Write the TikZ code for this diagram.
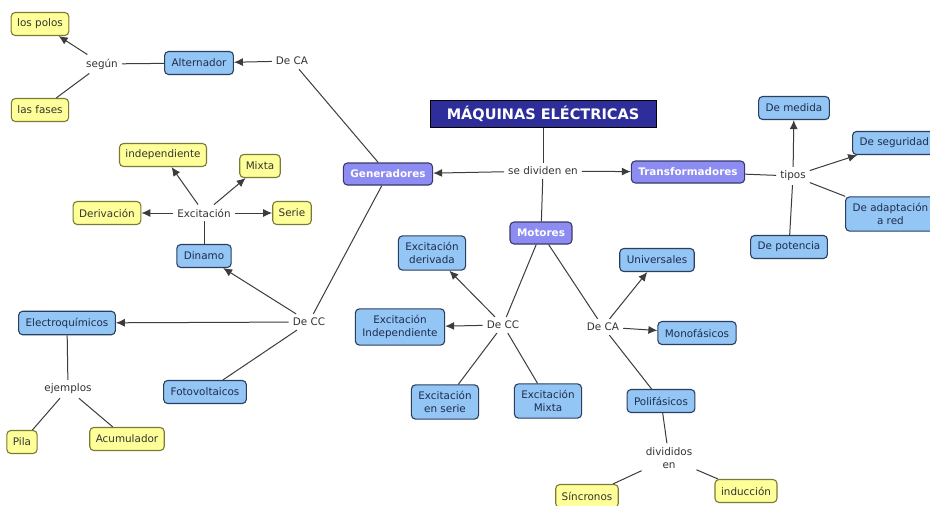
\documentclass[tikz,border=0pt]{standalone}
\usepackage{fontspec}
\setmainfont{DejaVu Sans}
\usetikzlibrary{arrows.meta}
\definecolor{conceptfill}{HTML}{93C5F5}
\definecolor{conceptdraw}{HTML}{2A3F5F}
\definecolor{conceptink}{HTML}{1F2D4D}
\definecolor{leaffill}{HTML}{FFFF99}
\definecolor{leafdraw}{HTML}{7A7A35}
\definecolor{groupfill}{HTML}{8C8CF2}
\definecolor{groupdraw}{HTML}{3A3A6A}
\definecolor{titlefill}{HTML}{2E2E9A}
\definecolor{wiregray}{HTML}{3C3C3C}
\definecolor{linkink}{HTML}{333333}

\begin{document}
\begin{tikzpicture}[x=1pt, y=-1pt,
>={Latex[length=9pt,width=8pt]},
concept/.style={rounded corners=4pt, draw=conceptdraw, fill=conceptfill, line width=1.1pt, text=conceptink, align=center, inner xsep=7pt, inner ysep=6.5pt, minimum height=23pt, font=\fontsize{10.4}{12.7}\selectfont},
leaf/.style={rounded corners=4pt, draw=leafdraw, fill=leaffill, line width=1.1pt, text=linkink, align=center, inner xsep=6pt, minimum height=23pt, font=\fontsize{10.4}{12.7}\selectfont},
group/.style={rounded corners=4pt, draw=groupdraw, fill=groupfill, line width=1.1pt, text=white, align=center, inner xsep=7pt, minimum height=22pt, font=\fontsize{10.4}{12.7}\selectfont\bfseries},
title/.style={draw=black, fill=titlefill, text=white, inner xsep=17pt, minimum height=27pt, font=\fontsize{14.5}{16}\selectfont\bfseries},
link/.style={text=linkink, align=center, inner sep=4pt, font=\fontsize{10.4}{12.7}\selectfont},
wire/.style={line width=1pt, color=wiregray},
]

\clip (0,0) rectangle (930,506);
\fill[white] (0,0) rectangle (930,506);

% Title and main branches
\node[title] (maq) at (543,114) {MÁQUINAS ELÉCTRICAS};
\node[link] (divid) at (543,171) {se dividen en};
\node[group] (gen) at (388,174) {Generadores};
\node[group] (trans) at (688,172) {Transformadores};
\node[group] (motores) at (541,233) {Motores};

% Generadores
\node[link] (gca) at (292,61) {De CA};
\node[concept] (alt) at (199,63) {Alternador};
\node[link] (segun) at (102,64) {según};
\node[leaf] (polos) at (40,24) {los polos};
\node[leaf] (fases) at (40,110) {las fases};

\node[link] (gcc) at (309,322) {De CC};
\node[concept] (dinamo) at (204,256) {Dinamo};
\node[link] (excit) at (204,213) {Excitación};
\node[leaf] (indep) at (163,155) {independiente};
\node[leaf] (mixta) at (260,166) {Mixta};
\node[leaf] (deriv) at (107,213) {Derivación};
\node[leaf] (serie) at (292,213) {Serie};
\node[concept] (electro) at (67,323) {Electroquímicos};
\node[link] (ejemplos) at (68,389) {ejemplos};
\node[leaf] (pila) at (22,442) {Pila};
\node[leaf] (acum) at (127,439) {Acumulador};
\node[concept] (foto) at (205,392) {Fotovoltaicos};

% Motores
\node[link] (mcc) at (503,325) {De CC};
\node[concept] (exderiv) at (432,253) {Excitación\\derivada};
\node[concept] (exindep) at (400,327) {Excitación\\Independiente};
\node[concept] (exserie) at (445,402) {Excitación\\en serie};
\node[concept] (exmixta) at (548,401) {Excitación\\Mixta};

\node[link] (mca) at (603,327) {De CA};
\node[concept] (univ) at (657,260) {Universales};
\node[concept] (mono) at (697,333) {Monofásicos};
\node[concept] (poli) at (661,401) {Polifásicos};
\node[link] (divididos) at (669,458) {divididos\\en};
\node[leaf] (sincr) at (587,496) {Síncronos};
\node[leaf] (induc) at (746,491) {inducción};

% Transformadores
\node[link] (tipos) at (793,176) {tipos};
\node[concept] (medida) at (794,108) {De medida};
\node[concept, anchor=west] (segur) at (852,143) {De seguridad};
\node[concept, anchor=west] (adapt) at (845,214) {De adaptación\\a red};
\node[concept] (potencia) at (789,247) {De potencia};

% Draw connecting lines
\draw[wire] (maq) to (divid);
\draw[->, wire] (divid) to (gen);
\draw[->, wire] (divid) to (trans);
\draw[wire] (divid) to (motores);

\draw[wire] (gen) to (gca);
\draw[->, wire] (gca) to (alt);
\draw[wire] (alt) to (segun);
\draw[->, wire] (segun) to (polos);
\draw[wire] (segun) to (fases);

\draw[wire] (gen) to (gcc);
\draw[->, wire] (gcc) to (dinamo);
\draw[wire] (dinamo) to (excit);
\draw[->, wire] (excit) to (indep);
\draw[->, wire] (excit) to (mixta);
\draw[->, wire] (excit) to (deriv);
\draw[->, wire] (excit) to (serie);
\draw[->, wire] (gcc) to (electro);
\draw[wire] (electro) to (ejemplos);
\draw[wire] (ejemplos) to (pila);
\draw[wire] (ejemplos) to (acum);
\draw[wire] (gcc) to (foto);

\draw[wire] (motores) to (mcc);
\draw[->, wire] (mcc) to (exderiv);
\draw[->, wire] (mcc) to (exindep);
\draw[wire] (mcc) to (exserie);
\draw[wire] (mcc) to (exmixta);
\draw[wire] (motores) to (mca);
\draw[->, wire] (mca) to (univ);
\draw[->, wire] (mca) to (mono);
\draw[wire] (mca) to (poli);
\draw[wire] (poli) to (divididos);
\draw[wire] (divididos) to (sincr);
\draw[wire] (divididos) to (induc);

\draw[wire] (trans) to (tipos);
\draw[->, wire] (tipos) to (medida);
\draw[->, wire] (tipos) to (segur);
\draw[wire] (tipos) to (adapt);
\draw[wire] (tipos) to (potencia);

\end{tikzpicture}
\end{document}
